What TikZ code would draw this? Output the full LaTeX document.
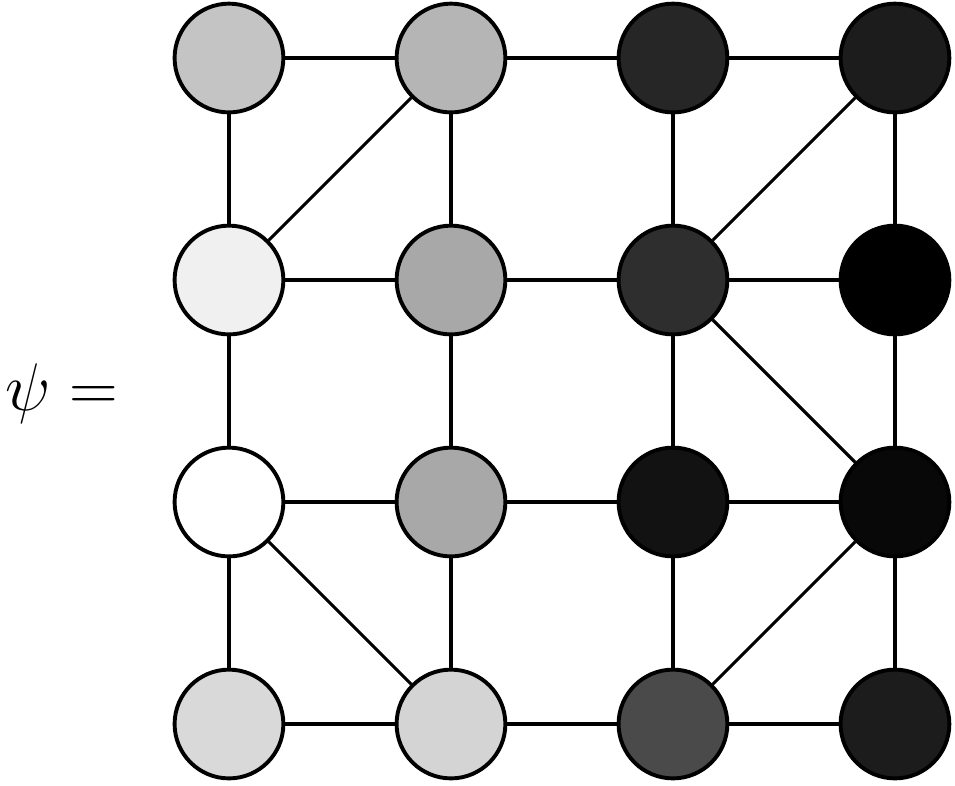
\documentclass[tikz,border=0pt]{standalone}
\usepackage{amsmath, amssymb}
\usepackage{tikz}

\begin{document}
\begin{tikzpicture}[site/.style={circle, draw, line width=1pt, minimum size=0.98cm, inner sep=0pt},
  bond/.style={line width=0.8pt}]
  \useasboundingbox (-2.063, -0.550) rectangle (6.541, 6.523);
  \node at (-1.504, 2.98) {\LARGE $\psi =$};
  % row 1
  \node[site, fill=black!23] (a11) at (0, 6) {};
  \node[site, fill=black!29] (a12) at (2, 6) {};
  \node[site, fill=black!85] (a13) at (4, 6) {};
  \node[site, fill=black!89] (a14) at (6, 6) {};
  % row 2
  \node[site, fill=black!6] (a21) at (0, 4) {};
  \node[site, fill=black!34] (a22) at (2, 4) {};
  \node[site, fill=black!82] (a23) at (4, 4) {};
  \node[site, fill=black] (a24) at (6, 4) {};
  % row 3
  \node[site, fill=white] (a31) at (0, 2) {};
  \node[site, fill=black!34] (a32) at (2, 2) {};
  \node[site, fill=black!93] (a33) at (4, 2) {};
  \node[site, fill=black!97] (a34) at (6, 2) {};
  % row 4
  \node[site, fill=black!15] (a41) at (0, 0) {};
  \node[site, fill=black!17] (a42) at (2, 0) {};
  \node[site, fill=black!71] (a43) at (4, 0) {};
  \node[site, fill=black!89] (a44) at (6, 0) {};
  % horizontal bonds
  \draw[bond] (a11) -- (a12) -- (a13) -- (a14);
  \draw[bond] (a21) -- (a22) -- (a23) -- (a24);
  \draw[bond] (a31) -- (a32) -- (a33) -- (a34);
  \draw[bond] (a41) -- (a42) -- (a43) -- (a44);
  % vertical bonds
  \draw[bond] (a11) -- (a21) -- (a31) -- (a41);
  \draw[bond] (a12) -- (a22) -- (a32) -- (a42);
  \draw[bond] (a13) -- (a23) -- (a33) -- (a43);
  \draw[bond] (a14) -- (a24) -- (a34) -- (a44);
  % diagonal bonds
  \draw[bond] (a21) -- (a12);
  \draw[bond] (a23) -- (a14);
  \draw[bond] (a23) -- (a34);
  \draw[bond] (a31) -- (a42);
  \draw[bond] (a43) -- (a34);
\end{tikzpicture}
\end{document}
